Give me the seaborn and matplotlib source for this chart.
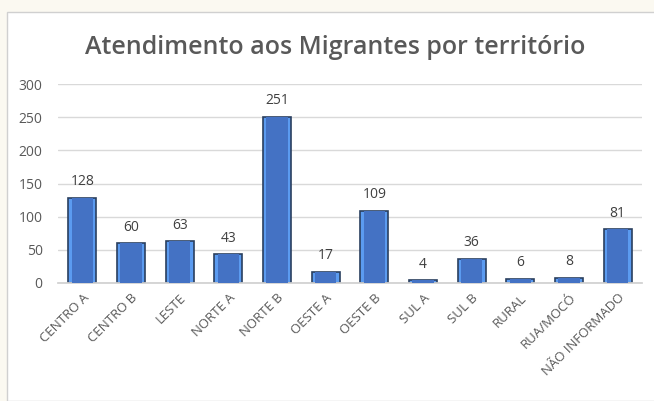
import matplotlib
matplotlib.use("Agg")
import matplotlib.pyplot as plt
import seaborn as sns
import pandas as pd
from matplotlib.patches import Rectangle

territorios = ["CENTRO A", "CENTRO B", "LESTE", "NORTE A", "NORTE B", "OESTE A",
               "OESTE B", "SUL A", "SUL B", "RURAL", "RUA/MOCÓ", "NÃO INFORMADO"]
atendimentos = [128, 60, 63, 43, 251, 17, 109, 4, 36, 6, 8, 81]
y_ticks = [0, 50, 100, 150, 200, 250, 300]

df = pd.DataFrame({"territorio": territorios, "total": atendimentos})

sns.set_theme(style="white")
plt.rcParams["font.family"] = ["Open Sans", "DejaVu Sans"]
cinza = "#595959"

fig = plt.figure(figsize=(6.54, 4.01), dpi=100, facecolor="#FBF9F1")
# white chart area with thin border
fig.patches.append(Rectangle((7 / 654, 0), 1, 1 - 12 / 401, transform=fig.transFigure,
                             facecolor="white", edgecolor="#D0D0D0", lw=1, zorder=-1))

ax = fig.add_axes([58 / 654, 1 - 283 / 401, 584 / 654, 199 / 401])
ax.set_facecolor("none")
ax.set_zorder(2)

# outer bar (light blue bevel) and inner darker fill
sns.barplot(data=df, x="territorio", y="total", color="#5B9BF0", width=0.58,
            edgecolor="#2A3F5F", linewidth=1.2, saturation=1, ax=ax, zorder=2)
sns.barplot(data=df, x="territorio", y="total", color="#4472C4", width=0.44,
            linewidth=0, saturation=1, ax=ax, zorder=3)

for i, v in enumerate(atendimentos):
    ax.text(i, v + 13, str(v), ha="center", va="bottom", fontsize=10, color="#404040")

ax.set_ylim(0, 300)
ax.set_xlim(-0.5, len(territorios) - 0.5)
ax.set_yticks(y_ticks)
ax.yaxis.grid(True, color="#D9D9D9", lw=1)
ax.set_axisbelow(True)
for s in ["top", "right", "left"]:
    ax.spines[s].set_visible(False)
ax.spines["bottom"].set_color("#D0D0D0")
ax.tick_params(axis="y", labelsize=10, colors=cinza, length=0, pad=11)
ax.tick_params(axis="x", labelsize=9.5, colors=cinza, length=0, pad=6)
plt.setp(ax.get_xticklabels(), rotation=45, ha="right", rotation_mode="anchor")
ax.set_xlabel("")
ax.set_ylabel("")

fig.text(335 / 654, 1 - 47 / 401, "Atendimento aos Migrantes por território",
         ha="center", va="center", fontsize=18, fontweight="semibold", color=cinza)

fig.savefig("out.png", dpi=100, facecolor=fig.get_facecolor())
